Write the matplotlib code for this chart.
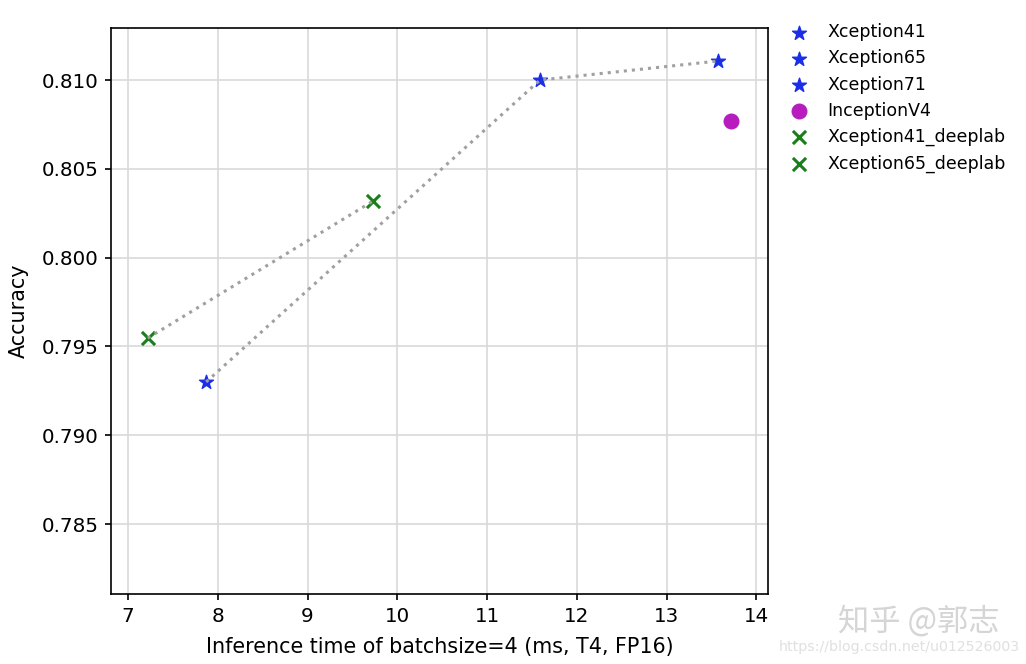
import matplotlib
matplotlib.use("Agg")
import matplotlib.pyplot as plt

names = ["Xception41", "Xception65", "Xception71", "InceptionV4",
         "Xception41_deeplab", "Xception65_deeplab"]
times = [7.87, 11.59, 13.57, 13.72, 7.22, 9.73]
accs = [0.7930, 0.8100, 0.81107, 0.80769, 0.79547, 0.80319]
markers = ["*", "*", "*", "o", "x", "x"]
colors = ["#1a2ee6", "#1a2ee6", "#1a2ee6", "#b81cbf", "#1a7f1a", "#1a7f1a"]
groups = [[0, 1, 2], [4, 5]]

fig = plt.figure(figsize=(10.26, 6.64), dpi=100)
ax = fig.add_axes([111/1026, 1-594/664, (768-111)/1026, (594-28)/664])

for i in range(len(names)):
    ax.scatter(times[i], accs[i], marker=markers[i], c=colors[i], s=110 if markers[i] != "x" else 90,
               linewidths=2.2 if markers[i] == "x" else 1, label=names[i], zorder=3)
for g in groups:
    ax.plot([times[j] for j in g], [accs[j] for j in g], ls=":", color="#a0a0a0", lw=2.2, zorder=4)

ax.set_xlim(6.81, 14.13)
ax.set_ylim(0.78106, 0.81293)
ax.set_xticks(range(7, 15))
ax.set_yticks([0.785, 0.790, 0.795, 0.800, 0.805, 0.810])
ax.grid(True, color="#d9d9d9", lw=1.2)
ax.set_axisbelow(True)
for s in ax.spines.values():
    s.set_linewidth(1.2)
ax.tick_params(labelsize=14.3, width=1.2, length=4.5, pad=4.5)
ax.set_xlabel("Inference time of batchsize=4 (ms, T4, FP16)", fontsize=14.9, labelpad=8)
ax.set_ylabel("Accuracy", fontsize=14.9, labelpad=9)
ax.legend(loc="upper left", bbox_to_anchor=(0.997, 1.036), frameon=False, fontsize=12.5,
          handletextpad=0.65, labelspacing=0.47)

fig.text(838/1026, 1-622/664, "知乎 @郭志", family=["Noto Sans CJK SC", "DejaVu Sans"],
         fontsize=22.5, color="#d5d5d5", va="center", ha="left")
fig.text(1020/1026, 1-647/664, "https://blog.csdn.net/u012526003", fontsize=10.2,
         color="#e0e0e0", va="center", ha="right")

fig.savefig("out.png", dpi=100)
